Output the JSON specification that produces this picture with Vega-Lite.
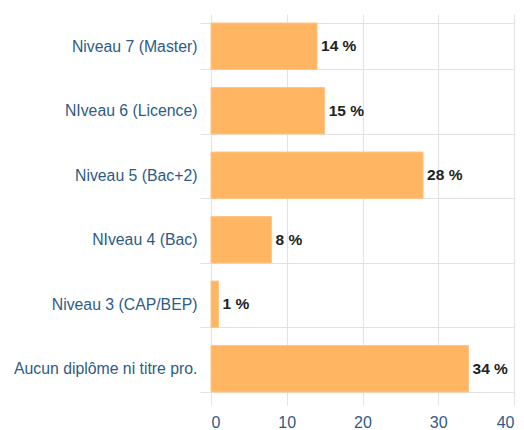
{
  "$schema": "https://vega.github.io/schema/vega-lite/v6.json",
  "autosize": "none",
  "width": 303,
  "height": 387,
  "padding": {"left": 211, "top": 14, "right": 10, "bottom": 29},
  "background": "white",
  "config": {
    "view": {"stroke": null},
    "font": "Liberation Sans"
  },
  "data": {
    "values": [
      {"niveau": "Niveau 7 (Master)", "pct": 14, "label": "14 %"},
      {"niveau": "NIveau 6 (Licence)", "pct": 15, "label": "15 %"},
      {"niveau": "Niveau 5 (Bac+2)", "pct": 28, "label": "28 %"},
      {"niveau": "NIveau 4 (Bac)", "pct": 8, "label": "8 %"},
      {"niveau": "Niveau 3 (CAP/BEP)", "pct": 1, "label": "1 %"},
      {"niveau": "Aucun diplôme ni titre pro.", "pct": 34, "label": "34 %"}
    ]
  },
  "encoding": {
    "y": {
      "field": "niveau",
      "type": "nominal",
      "sort": null,
      "scale": {"paddingInner": 0.28, "paddingOuter": 0.14},
      "axis": {
        "title": null,
        "domain": false,
        "grid": true,
        "gridColor": "#e2e2e2",
        "tickBand": "extent",
        "tickColor": "#e2e2e2",
        "tickSize": 11,
        "labelPadding": 3,
        "labelLimit": 300,
        "labelColor": "#2e5b86",
        "labelFontSize": 15.8,
        "labelFont": "Liberation Sans"
      }
    },
    "x": {
      "field": "pct",
      "type": "quantitative",
      "scale": {"domain": [0, 40], "nice": false},
      "axis": {
        "title": null,
        "values": [0, 10, 20, 30, 40],
        "domain": false,
        "grid": true,
        "gridColor": "#e2e2e2",
        "tickColor": "#e2e2e2",
        "tickSize": 4,
        "labelPadding": 9,
        "labelColor": "#2e5b86",
        "labelFontSize": 16,
        "labelFont": "Liberation Sans"
      }
    }
  },
  "layer": [
    {
      "mark": {"type": "bar", "color": "#ffb562", "stroke": "#ffc585", "strokeWidth": 1}
    },
    {
      "mark": {"type": "text", "align": "left", "baseline": "middle", "dx": 4, "fontSize": 15.5, "fontWeight": "bold", "color": "#222222", "font": "Liberation Sans"},
      "encoding": {"text": {"field": "label"}}
    }
  ]
}
